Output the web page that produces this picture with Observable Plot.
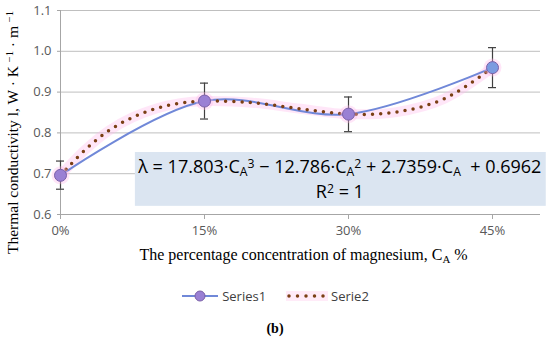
<!DOCTYPE html>
<html>
<head>
<meta charset="utf-8">
<script src="https://cdn.jsdelivr.net/npm/d3@7"></script>
<script src="https://cdn.jsdelivr.net/npm/@observablehq/plot@0.6"></script>
<style>
body { margin: 0; background: #fff; width: 550px; height: 341px; overflow: hidden; }
#chart svg { display: block; }
.legend { position: absolute; top: 287px; left: 0; width: 550px; display: flex; justify-content: center; gap: 14px; font-family: "Open Sans", "Noto Sans", sans-serif; font-size: 13px; color: #404040; }
.legend span { display: inline-flex; align-items: center; gap: 3px; }
.caption { position: absolute; top: 321px; left: 0; width: 550px; text-align: center; font-family: "Liberation Serif", serif; font-weight: bold; font-size: 14px; color: #000; }
</style>
</head>
<body>
<div id="chart"></div>
<div class="legend">
  <span><svg width="38" height="12"><line x1="1" y1="6" x2="37" y2="6" stroke="#7088d8" stroke-width="2"/><circle cx="19" cy="6" r="5" fill="#9a80d4" stroke="#7a5fa8"/></svg>Series1</span>
  <span style="margin-left:6px"><svg width="42" height="12"><rect x="0" y="1" width="42" height="10" fill="#ffebf8"/><line x1="3" y1="6" x2="40" y2="6" stroke="#7b3f14" stroke-width="3.5" stroke-linecap="round" stroke-dasharray="0 8.5"/></svg>Serie2</span>
</div>
<div class="caption">(b)</div>
<script>
// Series1: measured points (concentration fraction, conductivity)
const concentrations = [0, 0.15, 0.30, 0.45];
const conductivity = [0.696, 0.878, 0.846, 0.960];
const errLow = [0.662, 0.834, 0.803, 0.911];
const errHigh = [0.731, 0.922, 0.888, 1.009];
const pointFill = ["#9a80d4", "#9a80d4", "#9a80d4", "#7a9be0"];

// Serie2: polynomial trendline
const trendX = [0, 0.025, 0.05, 0.075, 0.10, 0.125, 0.15, 0.20, 0.25, 0.30, 0.35, 0.40, 0.45];
const trendY = [0.696, 0.757, 0.805, 0.838, 0.860, 0.873, 0.878, 0.874, 0.859, 0.846, 0.851, 0.884, 0.960];

const xTicks = [0, 0.15, 0.30, 0.45];
const xTickLabels = ["0%", "15%", "30%", "45%"];
const yTicks = [0.6, 0.7, 0.8, 0.9, 1.0, 1.1];

const eqLine1 = "λ = 17.803·C_{A}^{3} − 12.786·C_{A}^{2} + 2.7359·C_{A}  + 0.6962";
const eqLine2 = "R^{2} = 1";
const xTitle = "The percentage concentration of magnesium, C_{A} %";
const yTitle = "Thermal conductivity l, W · K ^{−1} · m ^{−1}";

const series1 = concentrations.map((c, i) => ({x: c, y: conductivity[i], lo: errLow[i], hi: errHigh[i], fill: pointFill[i]}));
const series2 = trendX.map((c, i) => ({x: c, y: trendY[i]}));

const sans = "'Open Sans', 'Noto Sans', sans-serif";
const serif = "'Liberation Serif', serif";

const chart = Plot.plot({
  width: 550,
  height: 270,
  marginTop: 10,
  marginLeft: 60,
  marginRight: 10,
  marginBottom: 56,
  style: {fontFamily: sans, fontSize: "13px", color: "#595959", background: "#fff"},
  x: {type: "linear", domain: [0, 0.5], label: null},
  y: {type: "linear", domain: [0.6, 1.1], label: null},
  marks: [
    Plot.gridY(yTicks, {stroke: "#bfbfbf", strokeOpacity: 1, strokeWidth: 1}),
    Plot.ruleX([0], {stroke: "#a6a6a6"}),
    Plot.ruleY([0.6], {stroke: "#a6a6a6"}),
    Plot.axisX({ticks: xTicks, tickFormat: d => xTickLabels[xTicks.findIndex(t => Math.abs(t - d) < 1e-9)], tickSize: 5, stroke: "#a6a6a6", fill: "#595959", fontSize: 13, tickPadding: 6, label: null}),
    Plot.axisY({ticks: yTicks, tickFormat: d => d.toFixed(1), tickSize: 3, stroke: "#a6a6a6", fill: "#595959", fontSize: 13, tickPadding: 6, label: null}),
    // trendline glow
    Plot.line(series2, {x: "x", y: "y", curve: "catmull-rom", stroke: "#ffb8ea", strokeOpacity: 0.35, strokeWidth: 10}),
    // Series1 smoothed line
    Plot.line(series1, {x: "x", y: "y", curve: "catmull-rom", stroke: "#7088d8", strokeWidth: 2}),
    // trendline dots
    Plot.line(series2, {x: "x", y: "y", curve: "catmull-rom", stroke: "#7b3f14", strokeWidth: 3.5, strokeLinecap: "round", strokeDasharray: "0 8.2"}),
    // error bars
    Plot.ruleX(series1, {x: "x", y1: "lo", y2: "hi", stroke: "#404040", strokeWidth: 1.2}),
    Plot.ruleY(series1, {y: "lo", x1: "x", x2: "x", insetLeft: -4, insetRight: -4, stroke: "#404040", strokeWidth: 1.2}),
    Plot.ruleY(series1, {y: "hi", x1: "x", x2: "x", insetLeft: -4, insetRight: -4, stroke: "#404040", strokeWidth: 1.2}),
    // markers
    Plot.dot(series1, {x: "x", y: "y", r: 9, fill: "#ffb8ea", fillOpacity: 0.35, stroke: null}),
    Plot.dot(series1, {x: "x", y: "y", r: 6, fill: "fill", stroke: "#7a5fa8", strokeWidth: 1}),
    // equation box
    Plot.rect([{}], {x1: 0.078, x2: 0.506, y1: 0.62, y2: 0.752, fill: "#dbe5f1", clip: false}),
    Plot.text([eqLine1], {x: 0.291, y: 0.7155, text: d => d, fontFamily: sans, fontSize: 18, fill: "#000", textAnchor: "middle"}),
    Plot.text([eqLine2], {x: 0.291, y: 0.655, text: d => d, fontFamily: sans, fontSize: 18, fill: "#000", textAnchor: "middle"}),
    // axis titles
    Plot.text([xTitle], {frameAnchor: "bottom", dy: 45, dx: 3, text: d => d, fontFamily: serif, fontSize: 16, fill: "#000", textAnchor: "middle"}),
    Plot.text([yTitle], {frameAnchor: "left", dx: -47, dy: 20, rotate: -90, text: d => d, fontFamily: serif, fontSize: 15.5, fill: "#000", textAnchor: "middle"})
  ]
});

// turn _{..} and ^{..} markers into sub/superscript tspans
chart.querySelectorAll("text").forEach(t => {
  const s = t.textContent;
  if (!/[_^]\{/.test(s)) return;
  const re = /([_^])\{([^}]*)\}/g;
  let last = 0, m;
  const parts = [];
  while ((m = re.exec(s))) {
    if (m.index > last) parts.push({t: s.slice(last, m.index)});
    parts.push({t: m[2], kind: m[1]});
    last = re.lastIndex;
  }
  if (last < s.length) parts.push({t: s.slice(last)});
  while (t.firstChild) t.removeChild(t.firstChild);
  for (const p of parts) {
    const ts = document.createElementNS("http://www.w3.org/2000/svg", "tspan");
    ts.textContent = p.t;
    if (p.kind) {
      ts.setAttribute("font-size", "0.68em");
      ts.setAttribute("baseline-shift", p.kind === "_" ? "-25%" : "45%");
    }
    t.appendChild(ts);
  }
});
document.getElementById("chart").appendChild(chart);
</script>
</body>
</html>
